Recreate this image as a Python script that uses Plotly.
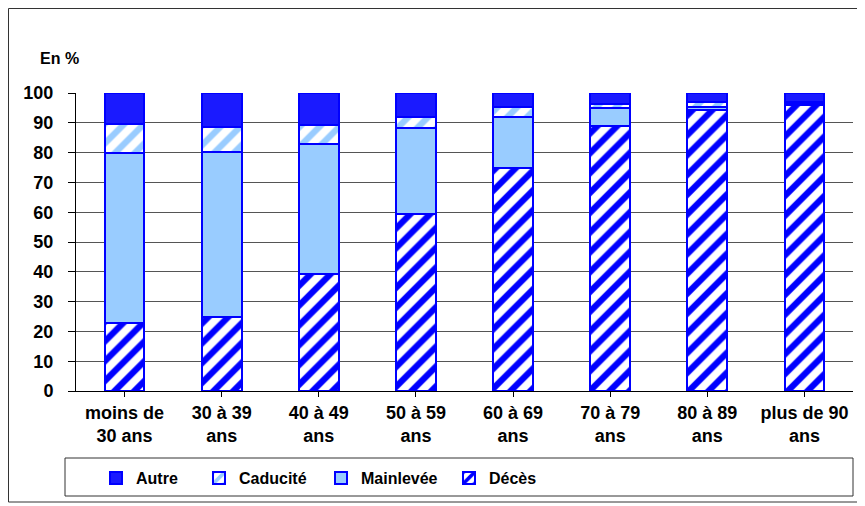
import plotly.graph_objects as go

categories = ["moins de<br>30 ans", "30 à 39<br>ans", "40 à 49<br>ans", "50 à 59<br>ans",
              "60 à 69<br>ans", "70 à 79<br>ans", "80 à 89<br>ans", "plus de 90<br>ans"]
deces = [22.8, 24.8, 39.3, 59.4, 74.8, 88.9, 94.3, 96.0]
mainlevee = [57.1, 55.5, 43.6, 28.8, 17.0, 6.1, 1.1, 0.3]
caducite = [9.7, 8.2, 6.3, 3.8, 3.4, 1.4, 1.7, 0.6]
autre = [round(100 - d - m - c, 1) for d, m, c in zip(deces, mainlevee, caducite)]
y_ticks = list(range(0, 101, 10))

OFF = 8  # page body offset
W, H = 865, 506
L, T = 76 - OFF, 93 - OFF
R = W - (853 - OFF)
B = H - (391 - OFF)
pw, ph = W - L - R, H - T - B

def px_x(x):
    return (x - OFF - L) / pw

def px_y(y):
    return (H - B - (y - OFF)) / ph

line = dict(color="#0000FF", width=2)
fig = go.Figure()
fig.add_trace(go.Bar(name="Décès", x=categories, y=deces, legend="legend4",
                     marker=dict(color="white", line=line,
                                 pattern=dict(shape="/", fgcolor="#0000FF", bgcolor="white",
                                              size=14, solidity=0.45, fgopacity=1))))
fig.add_trace(go.Bar(name="Mainlevée", x=categories, y=mainlevee, legend="legend3",
                     marker=dict(color="#99CCFF", line=line)))
fig.add_trace(go.Bar(name="Caducité", x=categories, y=caducite, legend="legend2",
                     marker=dict(color="white", line=line,
                                 pattern=dict(shape="/", fgcolor="#99CCFF", bgcolor="white",
                                              size=14, solidity=0.45, fgopacity=1))))
fig.add_trace(go.Bar(name="Autre", x=categories, y=autre, legend="legend",
                     marker=dict(color="#1a1aff", line=line)))

font_family = "Liberation Sans, Arial, sans-serif"
legend_font = dict(size=16, family="Liberation Sans Narrow, Arial Narrow, sans-serif",
                   weight="bold", color="black")

def leg(text_start):
    return dict(orientation="h", x=px_x(text_start - 41), xanchor="left",
                y=px_y(478), yanchor="middle", font=legend_font,
                itemwidth=30, bgcolor="rgba(0,0,0,0)")

fig.update_layout(
    barmode="stack",
    bargap=0.59,
    width=W, height=H,
    margin=dict(l=L, r=R, t=T, b=B),
    plot_bgcolor="white", paper_bgcolor="white",
    font=dict(family=font_family, size=16, color="black"),
    showlegend=True,
    legend=leg(137),
    legend2=leg(240),
    legend3=leg(362),
    legend4=leg(490),
    xaxis=dict(showline=True, linecolor="black", linewidth=1, ticks="outside",
               tickcolor="black", ticklen=5, showgrid=False,
               tickfont=dict(size=18, weight="bold", family=font_family)),
    yaxis=dict(range=[0, 100], tickvals=y_ticks, showline=True, linecolor="black",
               linewidth=1, ticks="outside", tickcolor="black", ticklen=7,
               ticklabelstandoff=11,
               showgrid=True, gridcolor="#555555", gridwidth=1, zeroline=False,
               tickfont=dict(size=18, weight="bold", family=font_family)),
    annotations=[dict(text="<b>En %</b>", x=px_x(38), y=px_y(58), xref="paper", yref="paper",
                      xanchor="left", yanchor="middle", showarrow=False,
                      font=dict(size=16, family=font_family))],
    shapes=[
        dict(type="rect", xref="paper", yref="paper", x0=px_x(8.5), x1=px_x(862),
             y0=px_y(502), y1=px_y(8.5), line=dict(color="#333333", width=1)),
        dict(type="rect", xref="paper", yref="paper", x0=px_x(65), x1=px_x(853),
             y0=px_y(496), y1=px_y(458), line=dict(color="#333333", width=1)),
    ],
)
fig.write_html("out.html")
